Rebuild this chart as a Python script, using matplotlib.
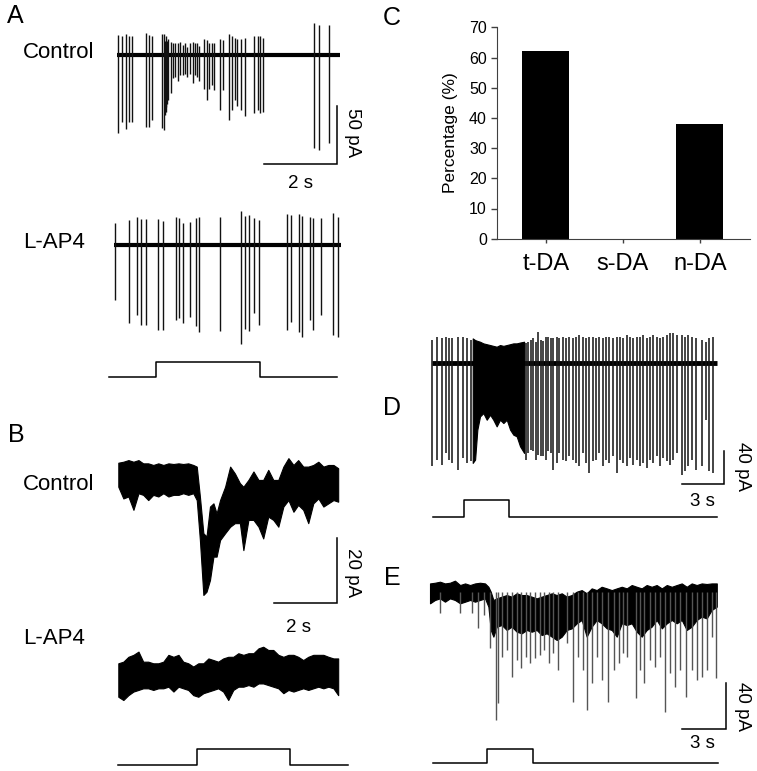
import numpy as np
import matplotlib
matplotlib.use('Agg')
from matplotlib import pyplot as plt

plt.rcParams['font.family'] = ['Liberation Sans', 'DejaVu Sans']

# ---- data (time in s, current in pA) ----
# A, Control: spike times, upward and downward peaks
ctrlA_t = [0.04, 0.13, 0.25, 0.34, 0.41, 0.79, 0.89, 0.95, 1.22, 1.29, 1.31, 1.32, 1.34, 1.35, 1.36,
           1.41, 1.47, 1.53, 1.59, 1.66, 1.73, 1.81, 1.87, 1.93, 2.00, 2.07, 2.14, 2.20, 2.26, 2.37,
           2.46, 2.53, 2.59, 2.66, 2.82, 2.91, 3.08, 3.14, 3.22, 3.28, 3.39, 3.51, 3.74, 3.85, 3.92,
           4.00, 5.40, 5.54, 5.82]
ctrlA_up = [17, 16, 18, 16, 16, 19, 17, 16, 18, 18, 12, 10, 16, 10, 12, 14, 11.5, 10.6, 10, 10,
            11.5, 8.6, 10, 7, 10, 11.5, 10, 10, 7.8, 13.5, 13, 10, 10, 10.6, 13.5, 13, 18, 16, 15,
            13.5, 13.5, 15, 16, 16, 16, 15, 28, 26, 26]
ctrlA_dn = [-67, -58, -64, -58, -58, -62, -62, -56, -63, -65, -49, -52, -49, -45, -42, -39, -33,
            -20, -19, -22, -17, -17, -16, -19, -16, -24, -17, -19, -22, -29, -39, -29, -26, -30,
            -47, -30, -56, -47, -39, -44, -47, -53, -50, -47, -50, -49, -80, -82, -76]
ctrlA_end = 6.11

# A, L-AP4
lapA_t = [0.03, 0.42, 0.62, 0.73, 0.87, 1.20, 1.35, 1.70, 1.79, 1.88, 2.08, 2.25, 2.34, 2.90,
          3.47, 3.60, 3.69, 3.84, 3.96, 4.73, 4.84, 5.06, 5.14, 5.37, 5.46, 5.66, 5.99, 6.13]
lapA_up = [19, 21.5, 24, 22, 22, 22, 21, 24, 23, 19, 20, 23, 24, 24, 29, 25, 26, 23, 21.5, 27,
           26, 27, 25, 24, 23, 23, 28, 24]
lapA_dn = [-47, -67, -60, -69, -69, -73, -73, -65, -63, -67, -62, -70, -75, -74, -85, -72, -74,
           -59, -69, -73, -66, -75, -79, -65, -73, -60, -78, -79]
lapA_end = 6.22
stepA_t = [-0.14, 1.14, 4.01, 6.1]

# B, Control: upper / lower edge of the noisy trace
ctrlB_t = [0.01, 0.17, 0.33, 0.49, 0.65, 0.80, 0.96, 1.12, 1.28, 1.44, 1.60, 1.76, 1.92, 2.07,
           2.23, 2.39, 2.50, 2.60, 2.71, 2.81, 2.92, 3.03, 3.13, 3.24, 3.40, 3.56, 3.71, 3.87,
           3.98, 4.14, 4.30, 4.46, 4.61, 4.77, 4.93, 5.09, 5.25, 5.41, 5.57, 5.72, 5.88, 6.04,
           6.20, 6.36, 6.52, 6.68, 6.84, 6.99]
ctrlB_hi = [4.8, 5.1, 5.6, 5.1, 5.6, 4.6, 4.6, 4.1, 4.6, 4.1, 4.6, 4.4, 4.6, 4.4, 4.6, 4.1, 3.6,
            -5.6, -16.9, -17.9, -8.7, -7.7, -10.8, -6.7, -2.6, 3.6, 1.5, -1.5, -2.6, -0.5, 2.1,
            -0.5, -0.5, 2.6, -0.5, -0.5, 3.6, 6.2, 4.1, 5.6, 3.6, 3.6, 4.1, 5.1, 3.6, 4.1, 4.1, 3.1]
ctrlB_lo = [-2.6, -6.2, -5.6, -9.7, -4.6, -5.1, -6.7, -5.1, -5.6, -4.6, -5.6, -5.1, -5.1, -4.6,
            -5.1, -4.6, -6.7, -19, -35.9, -34.9, -31.3, -24.1, -24.1, -19, -16.9, -14.9, -13.8,
            -13.8, -22.1, -12.8, -12.8, -14.9, -18.5, -11.8, -12.8, -14.9, -8.7, -6.7, -10.3,
            -8.2, -9.7, -13.8, -7.7, -6.2, -8.7, -7.7, -6.7, -7.2]

# B, L-AP4
lapB_t = [0.01, 0.17, 0.33, 0.49, 0.65, 0.80, 0.96, 1.12, 1.28, 1.44, 1.60, 1.76, 1.92, 2.07,
          2.23, 2.39, 2.55, 2.71, 2.87, 3.03, 3.18, 3.34, 3.50, 3.66, 3.82, 3.98, 4.14, 4.30,
          4.46, 4.61, 4.77, 4.93, 5.09, 5.25, 5.41, 5.57, 5.72, 5.88, 6.04, 6.20, 6.36, 6.52,
          6.68, 6.84, 6.99]
lapB_hi = [3.6, 4.1, 5.6, 6.2, 7.2, 4.1, 4.1, 3.6, 3.6, 4.1, 6.2, 5.6, 6.2, 4.1, 3.6, 2.6, 3.6,
           3.6, 5.1, 4.6, 4.1, 5.1, 5.6, 5.6, 6.7, 6.2, 6.7, 6.7, 8.2, 8.7, 7.7, 7.7, 6.2, 5.6,
           6.2, 6.2, 5.6, 4.6, 5.6, 6.2, 6.2, 6.2, 5.6, 5.1, 5.1]
lapB_lo = [-6.7, -7.7, -6.2, -5.1, -4.6, -4.1, -4.1, -4.6, -4.1, -4.1, -3.6, -5.1, -3.6, -4.1,
           -4.6, -6.2, -6.7, -5.6, -5.1, -4.6, -4.1, -5.1, -7.7, -4.6, -3.6, -3.6, -3.1, -3.6,
           -2.6, -2.6, -3.1, -3.6, -4.1, -5.6, -4.6, -5.1, -4.6, -4.1, -4.6, -4.1, -3.6, -4.1,
           -3.6, -4.1, -6.2]
stepB_t = [0.0, 2.51, 5.46, 7.3]

# C, percentages
groups = ['t-DA', 's-DA', 'n-DA']
pct = [62, 0, 38]

# D, spikes outside the burst, and the burst envelope
d_t = [0.00, 0.36, 0.71, 1.02, 1.26, 1.48, 1.90, 2.21, 2.50, 2.79, 6.74, 6.90, 7.07, 7.26, 7.45,
       7.62, 7.79, 7.98, 8.17, 8.33, 8.50, 8.69, 8.93, 9.12, 9.36, 9.60, 9.83, 10.07, 10.31,
       10.55, 10.79, 11.02, 11.26, 11.50, 11.74, 11.98, 12.21, 12.45, 12.69, 12.98, 13.21,
       13.45, 13.69, 13.93, 14.17, 14.40, 14.64, 14.88, 15.12, 15.36, 15.60, 15.83, 16.07,
       16.31, 16.55, 16.79, 17.02, 17.26, 17.55, 17.86, 18.10, 18.33, 18.57, 18.88, 19.29,
       19.60, 19.83, 20.12]
d_up = [28, 32, 30, 32, 30, 30, 32, 32, 30, 28, 24, 26, 28, 30, 26, 38, 28, 27, 32, 32, 30, 30,
        32, 30, 32, 30, 32, 30, 32, 34, 32, 30, 32, 32, 30, 32, 30, 32, 32, 30, 32, 32, 30, 34,
        32, 30, 32, 32, 34, 30, 32, 34, 32, 30, 32, 34, 36, 36, 34, 34, 32, 34, 32, 30, 28, 26,
        30, 32]
d_dn = [-124, -116, -122, -108, -116, -120, -128, -114, -120, -118, -116, -108, -104, -106,
        -116, -110, -112, -112, -116, -106, -108, -128, -120, -108, -116, -118, -112, -116,
        -120, -124, -108, -120, -132, -118, -116, -108, -124, -116, -120, -112, -132, -116,
        -120, -124, -114, -122, -116, -124, -120, -126, -116, -120, -112, -124, -114, -118,
        -122, -116, -108, -134, -130, -124, -116, -128, -124, -68, -130, -132]
burst_t = [2.93, 3.10, 3.26, 3.45, 3.69, 3.93, 4.17, 4.40, 4.64, 4.88, 5.12, 5.36, 5.60, 5.83,
           6.07, 6.31, 6.60]
burst_hi = [30, 28, 27, 26, 24, 23, 22, 21, 20, 22, 21, 22, 23, 24, 24, 25, 26]
burst_lo = [-120, -116, -80, -64, -60, -68, -62, -68, -76, -68, -72, -68, -80, -86, -88, -100,
            -108]
d_end = 20.36
stepD_t = [0.07, 2.33, 5.54, 20.36]

# E, edges of the noisy trace and the deeper events
e_t = [0.00, 0.34, 0.68, 1.02, 1.36, 1.70, 2.05, 2.39, 2.73, 3.07, 3.41, 3.75, 3.98, 4.14, 4.32,
       4.55, 4.89, 5.23, 5.57, 5.91, 6.25, 6.59, 6.93, 7.27, 7.61, 7.95, 8.30, 8.64, 8.98, 9.32,
       9.66, 10.00, 10.34, 10.68, 11.02, 11.36, 11.70, 12.05, 12.39, 12.73, 13.07, 13.41, 13.75,
       14.09, 14.43, 14.77, 15.11, 15.45, 15.80, 16.14, 16.48, 16.82, 17.16, 17.50, 17.84,
       18.18, 18.52, 18.86, 19.20, 19.55]
e_hi = [7.2, 7.8, 8.7, 7.2, 7.8, 9.6, 5.8, 7.2, 5.8, 7.2, 7.8, 7.2, 4.3, 0.0, -7.2, -5.8, -4.3,
        -2.9, -4.3, -1.4, -2.9, -2.9, -4.3, -5.8, -4.3, -2.9, -1.4, -2.9, -1.4, -4.3, -2.9, 0.0,
        1.4, -1.4, 2.9, 1.4, 4.3, 2.9, 1.4, 2.9, 4.3, 2.9, 5.8, 4.3, 2.9, 5.8, 4.3, 5.8, 2.9,
        5.8, 4.3, 5.8, 7.2, 4.3, 7.2, 5.8, 7.2, 6.7, 7.2, 7.2]
e_lo = [-10.1, -7.2, -5.8, -8.7, -5.8, -7.2, -10.1, -8.7, -7.2, -8.7, -7.2, -5.8, -13.0, -33.3,
        -39.1, -30.4, -29.0, -33.3, -30.4, -34.8, -36.2, -33.3, -34.8, -33.3, -37.7, -36.2,
        -39.1, -42.0, -39.1, -33.3, -31.9, -27.5, -24.6, -39.1, -30.4, -24.6, -27.5, -31.9,
        -33.3, -39.1, -27.5, -29.0, -27.5, -34.8, -39.1, -33.3, -30.4, -24.6, -31.9, -27.5,
        -24.6, -27.5, -24.6, -33.3, -30.4, -24.6, -21.7, -23.2, -15.9, -13.0]
e_spk_t = [0.68, 2.05, 2.84, 3.30, 3.68, 4.09, 4.50, 4.66, 4.89, 5.27, 5.57, 5.91, 6.18, 6.55,
           6.82, 7.16, 7.50, 7.77, 8.14, 8.36, 8.75, 9.32, 9.73, 10.11, 10.45, 10.68, 11.02,
           11.36, 11.70, 12.16, 12.55, 12.91, 13.18, 13.41, 14.02, 14.32, 14.59, 15.00, 15.34,
           15.68, 16.02, 16.36, 16.70, 17.05, 17.45, 17.84, 18.18, 18.52, 18.86, 19.20, 19.50]
e_spk = [-18.8, -18.8, -18.8, -31.9, -20.3, -49.3, -111.6, -97.1, -56.5, -50.7, -73.9, -59.4,
         -66.7, -56.5, -62.3, -58.0, -55.1, -50.7, -62.3, -53.6, -68.1, -44.9, -95.7, -56.5,
         -68.1, -102.9, -79.7, -56.5, -76.8, -95.7, -68.1, -62.3, -53.6, -56.5, -92.8, -68.1,
         -79.7, -59.4, -65.2, -56.5, -104.3, -71.0, -82.6, -68.1, -91.3, -68.1, -76.8, -73.9,
         -68.1, -39.1, -75.4]
stepE_t = [0.18, 3.87, 7.04, 19.61]

step_lv = [0, 1, 0, 0]

# ---- layout helpers (pixel positions, origin top-left) ----
W, H = 757, 771
fig = plt.figure(figsize=(W / 100, H / 100), dpi=100)


def px_box(l, t, r, b):
    return [l / W, 1 - b / H, (r - l) / W, (b - t) / H]


def trace_axes(x0, y0, sx, sy, box):
    # x0, y0: pixel of data origin; sx, sy: pixels per unit
    l, t, r, b = box
    ax = fig.add_axes(px_box(l, t, r, b))
    ax.set_xlim((l - x0) / sx, (r - x0) / sx)
    ax.set_ylim((y0 - b) / sy, (y0 - t) / sy)
    ax.axis('off')
    return ax


def ptext(x, y, s, size, **kw):
    fig.text(x / W, 1 - y / H, s, fontsize=size, va='center', **kw)


def scale_bar(ax, t, i, dt, di):
    ax.plot([t - dt, t, t], [i, i, i + di], color='black', lw=1.1, solid_joinstyle='miter')


def step(ax, st):
    ax.plot(st, step_lv, drawstyle='steps-post', color='black', lw=1.1)


# ---- panel A ----
ax = trace_axes(117, 55, 36.5, 1.16, (100, 10, 380, 200))
ax.plot([0, ctrlA_end], [0, 0], color='black', lw=3.0, solid_capstyle='butt')
ax.vlines(ctrlA_t, ctrlA_dn, ctrlA_up, color='#111111', lw=1.0)
scale_bar(ax, 6.03, -94, 2, 50)

ax = trace_axes(114, 245, 36.5, 1.16, (100, 200, 380, 345))
ax.plot([0, lapA_end], [0, 0], color='black', lw=3.0, solid_capstyle='butt')
ax.vlines(lapA_t, lapA_dn, lapA_up, color='#111111', lw=1.0)

ax = trace_axes(114, 376.7, 36.5, 14.4, (100, 350, 380, 390))
step(ax, stepA_t)

# ---- panel B ----
ax = trace_axes(118, 478.3, 31.5, 3.25, (100, 445, 380, 615))
ax.fill_between(ctrlB_t, ctrlB_lo, ctrlB_hi, color='black', lw=0.8)
scale_bar(ax, 6.95, -38.4, 2, 20)

ax = trace_axes(118, 675, 31.5, 3.25, (100, 640, 380, 710))
ax.fill_between(lapB_t, lapB_lo, lapB_hi, color='black', lw=0.8)

ax = trace_axes(118, 765, 31.5, 16, (100, 740, 380, 771))
step(ax, stepB_t)

# ---- panel C ----
axc = fig.add_axes(px_box(496.7, 27.3, 750, 238.7))
axc.bar(range(len(groups)), pct, width=0.61, color='black')
axc.set_xlim(-0.64, 2.65)
axc.set_ylim(0, 70)
axc.set_yticks(range(0, 71, 10))
axc.set_xticks(range(len(groups)))
axc.set_xticklabels(groups)
for s in ['top', 'right']:
    axc.spines[s].set_visible(False)
for s in ['left', 'bottom']:
    axc.spines[s].set_color('#404040')
axc.tick_params(axis='y', length=4, width=1, color='#404040', labelsize=11.5, pad=3)
axc.tick_params(axis='x', length=3, width=1, color='#404040', labelsize=17, pad=7)
axc.set_ylabel('Percentage (%)', fontsize=12.5, labelpad=8)

# ---- panel D ----
ax = trace_axes(431.7, 363.3, 14, 0.83, (420, 320, 757, 495))
ax.plot([0, d_end], [0, 0], color='black', lw=3.5, solid_capstyle='butt')
ax.fill_between(burst_t, burst_lo, burst_hi, color='black', lw=0.8)
ax.vlines(d_t, d_dn, d_up, color='#111111', lw=1.1)
scale_bar(ax, 20.88, -145.8, 3, 40)

ax = trace_axes(431.7, 516.7, 14, 16.7, (420, 490, 757, 525))
step(ax, stepD_t)

# ---- panel E ----
ax = trace_axes(430, 591.7, 14.67, 1.15, (420, 570, 757, 735))
ax.vlines(e_spk_t, e_spk, 0, color='#555555', lw=1.0)
ax.fill_between(e_t, e_lo, e_hi, color='black', lw=0.8)
scale_bar(ax, 20.18, -119.7, 3, 40)

ax = trace_axes(430, 763.3, 14.67, 14.3, (420, 740, 757, 771))
step(ax, stepE_t)

# ---- text ----
for x, y, s in [(15, 16, 'A'), (16, 435, 'B'), (392, 18, 'C'), (392, 408, 'D'), (392, 578, 'E')]:
    ptext(x, y, s, 18, ha='center')
ptext(23, 52, 'Control', 16, ha='left')
ptext(23, 243, 'L-AP4', 16, ha='left')
ptext(23, 484, 'Control', 16, ha='left')
ptext(23, 638, 'L-AP4', 16, ha='left')

ptext(300, 183, '2 s', 13.5, ha='center')
ptext(353, 133, '50 pA', 13.5, ha='center', rotation=270)
ptext(298, 627, '2 s', 13.5, ha='center')
ptext(352, 573, '20 pA', 13.5, ha='center', rotation=270)
ptext(702, 502, '3 s', 13.5, ha='center')
ptext(742, 467, '40 pA', 13.5, ha='center', rotation=270)
ptext(702, 743, '3 s', 13.5, ha='center')
ptext(743, 707, '40 pA', 13.5, ha='center', rotation=270)

fig.savefig('out.png', dpi=100)
